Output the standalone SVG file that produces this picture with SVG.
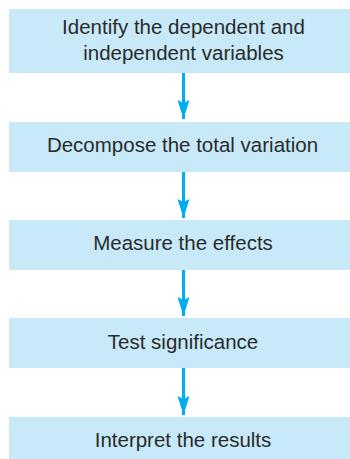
<svg xmlns="http://www.w3.org/2000/svg" width="350" height="459" viewBox="0 0 350 459">
  <style>
    .box { fill: #C7E9F8; }
    .label { font-family: "Liberation Sans", Arial, sans-serif; font-size: 20.5px; fill: #2B2B2B; text-anchor: middle; }
    .conn { stroke: #00AEEF; stroke-width: 3; fill: none; marker-end: url(#arrow); }
  </style>
  <defs>
    <marker id="arrow" markerUnits="userSpaceOnUse" viewBox="-20 -7 20 14" refX="0" refY="0" markerWidth="20" markerHeight="14" orient="auto">
      <path d="M0,0 L-19,-6 L-16,0 L-19,6 Z" fill="#00AEEF"/>
    </marker>
  </defs>
  <rect width="350" height="459" fill="#FFFFFF"/>
  <g id="node1">
    <rect class="box" x="9" y="9" width="350" height="64"/>
    <text class="label" x="183.5" y="33.5">Identify the dependent and</text>
    <text class="label" x="183.5" y="59.5">independent variables</text>
  </g>
  <g id="node2">
    <rect class="box" x="9" y="122" width="350" height="50"/>
    <text class="label" x="182.5" y="152">Decompose the total variation</text>
  </g>
  <g id="node3">
    <rect class="box" x="9" y="220" width="350" height="50"/>
    <text class="label" x="183" y="250">Measure the effects</text>
  </g>
  <g id="node4">
    <rect class="box" x="9" y="318" width="350" height="50"/>
    <text class="label" x="183" y="349">Test significance</text>
  </g>
  <g id="node5">
    <rect class="box" x="9" y="417" width="350" height="50"/>
    <text class="label" x="183" y="447">Interpret the results</text>
  </g>
  <g id="connectors">
    <path class="conn" d="M183.5,73 L183.5,119"/>
    <path class="conn" d="M183.5,172 L183.5,218"/>
    <path class="conn" d="M183.5,270 L183.5,316"/>
    <path class="conn" d="M183.5,368 L183.5,415"/>
  </g>
</svg>
